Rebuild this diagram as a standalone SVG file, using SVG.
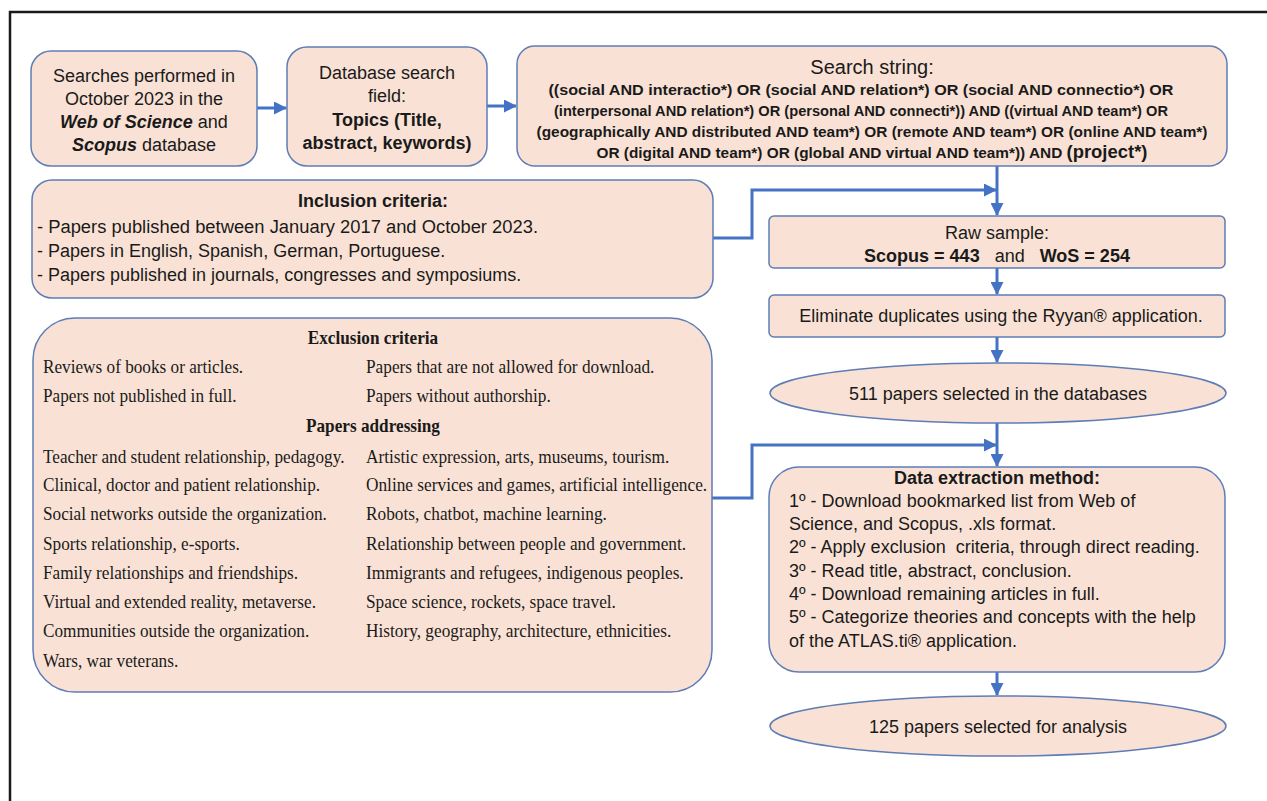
<svg xmlns="http://www.w3.org/2000/svg" width="1267" height="801" viewBox="0 0 1267 801">
<defs>
<style>
.box{fill:#F9E2D5;stroke:#5E7DB6;stroke-width:1.5}
.s{font-family:"Liberation Sans",Arial,sans-serif;fill:#1a1a1a}
.t{font-family:"Liberation Serif","Times New Roman",serif;fill:#1a1a1a;font-size:18.5px}
.c{text-anchor:middle}
.b{font-weight:bold}
.con{fill:none;stroke:#4472C4;stroke-width:3}
</style>
<marker id="ah" markerWidth="13" markerHeight="13" refX="12" refY="6.5" orient="auto" markerUnits="userSpaceOnUse">
<path d="M0,0 L13,6.5 L0,13 Z" fill="#4472C4"/>
</marker>
</defs>
<rect x="0" y="0" width="1267" height="801" fill="#ffffff"/>
<rect x="10" y="12" width="1290" height="820" fill="none" stroke="#1a1a1a" stroke-width="2.5"/>

<g id="connectors">
<line class="con" x1="257" y1="108" x2="286" y2="108" marker-end="url(#ah)"/>
<line class="con" x1="487" y1="106" x2="516" y2="106" marker-end="url(#ah)"/>
<line class="con" x1="997" y1="166" x2="997" y2="215" marker-end="url(#ah)"/>
<polyline class="con" points="713,238 752,238 752,190 996,190" marker-end="url(#ah)"/>
<line class="con" x1="997" y1="268" x2="997" y2="294" marker-end="url(#ah)"/>
<line class="con" x1="997" y1="337" x2="997" y2="362" marker-end="url(#ah)"/>
<line class="con" x1="997" y1="423" x2="997" y2="466" marker-end="url(#ah)"/>
<polyline class="con" points="712,498 752,498 752,445 996,445" marker-end="url(#ah)"/>
<line class="con" x1="997" y1="672" x2="997" y2="695" marker-end="url(#ah)"/>
</g>

<g id="searches">
<rect class="box" x="31" y="51" width="226" height="115" rx="20"/>
<text class="s c" font-size="18" x="144" y="82">Searches performed in</text>
<text class="s c" font-size="18" x="144" y="105">October 2023 in the</text>
<text class="s c" font-size="18" x="144" y="128"><tspan font-weight="bold" font-style="italic">Web of Science</tspan> and</text>
<text class="s c" font-size="18" x="144" y="151"><tspan font-weight="bold" font-style="italic">Scopus</tspan> database</text>
</g>

<g id="field">
<rect class="box" x="287" y="47" width="200" height="119" rx="20"/>
<text class="s c" font-size="18" x="387" y="79">Database search</text>
<text class="s c" font-size="18" x="387" y="102">field:</text>
<text class="s c b" font-size="18" x="387" y="126">Topics (Title,</text>
<text class="s c b" font-size="18" x="387" y="149">abstract, keywords)</text>
</g>

<g id="searchstring">
<rect class="box" x="517" y="46" width="710" height="120" rx="18"/>
<text class="s c" font-size="20" x="872" y="74">Search string:</text>
<text class="s c b" font-size="15" x="861" y="95" textLength="625" lengthAdjust="spacingAndGlyphs">((social AND interactio*) OR (social AND relation*) OR (social AND connectio*) OR</text>
<text class="s c b" font-size="15" x="861" y="116" textLength="614" lengthAdjust="spacingAndGlyphs">(interpersonal AND relation*) OR (personal AND connecti*)) AND ((virtual AND team*) OR</text>
<text class="s c b" font-size="15" x="872" y="137" textLength="671" lengthAdjust="spacingAndGlyphs">(geographically AND distributed AND team*) OR (remote AND team*) OR (online AND team*)</text>
<text class="s c b" font-size="15" x="872" y="158" textLength="551" lengthAdjust="spacingAndGlyphs">OR (digital AND team*) OR (global AND virtual AND team*)) AND <tspan font-size="18">(project*)</tspan></text>
</g>

<g id="inclusion">
<rect class="box" x="32" y="180" width="681" height="118" rx="20"/>
<text class="s c b" font-size="18" x="373" y="207">Inclusion criteria:</text>
<text class="s" font-size="18" x="37" y="233" textLength="501" lengthAdjust="spacingAndGlyphs">- Papers published between January 2017 and October 2023.</text>
<text class="s" font-size="18" x="37" y="257">- Papers in English, Spanish, German, Portuguese.</text>
<text class="s" font-size="18" x="37" y="281">- Papers published in journals, congresses and symposiums.</text>
</g>

<g id="raw">
<rect class="box" x="769" y="216" width="456" height="52" rx="5"/>
<text class="s c" font-size="18" x="997" y="239">Raw sample:</text>
<text class="s c" font-size="18" x="997" y="262" xml:space="preserve"><tspan font-weight="bold">Scopus = 443</tspan>   and   <tspan font-weight="bold">WoS = 254</tspan></text>
</g>

<g id="eliminate">
<rect class="box" x="769" y="295" width="456" height="42" rx="5"/>
<text class="s c" font-size="18" x="1001" y="322">Eliminate duplicates using the Ryyan® application.</text>
</g>

<g id="selected511">
<ellipse class="box" cx="998" cy="393" rx="228" ry="30"/>
<text class="s c" font-size="18" x="998" y="400">511 papers selected in the databases</text>
</g>

<g id="exclusion">
<rect class="box" x="33" y="318" width="679" height="374" rx="42"/>
<text class="t c b" x="373" y="344" transform="translate(373,0) scale(0.93,1) translate(-373,0)">Exclusion criteria</text>
<text class="t c b" x="373" y="432" transform="translate(373,0) scale(0.93,1) translate(-373,0)">Papers addressing</text>
<g transform="translate(43,0) scale(0.93,1) translate(-43,0)">
<text class="t" x="43" y="373">Reviews of books or articles.</text>
<text class="t" x="43" y="402">Papers not published in full.</text>
<text class="t" x="43" y="463">Teacher and student relationship, pedagogy.</text>
<text class="t" x="43" y="491">Clinical, doctor and patient relationship.</text>
<text class="t" x="43" y="520">Social networks outside the organization.</text>
<text class="t" x="43" y="550">Sports relationship, e-sports.</text>
<text class="t" x="43" y="579">Family relationships and friendships.</text>
<text class="t" x="43" y="608">Virtual and extended reality, metaverse.</text>
<text class="t" x="43" y="637">Communities outside the organization.</text>
<text class="t" x="43" y="667">Wars, war veterans.</text>
</g>
<g transform="translate(366,0) scale(0.935,1) translate(-366,0)">
<text class="t" x="366" y="373">Papers that are not allowed for download.</text>
<text class="t" x="366" y="402">Papers without authorship.</text>
<text class="t" x="366" y="463">Artistic expression, arts, museums, tourism.</text>
<text class="t" x="366" y="491">Online services and games, artificial intelligence.</text>
<text class="t" x="366" y="520">Robots, chatbot, machine learning.</text>
<text class="t" x="366" y="550">Relationship between people and government.</text>
<text class="t" x="366" y="579">Immigrants and refugees, indigenous peoples.</text>
<text class="t" x="366" y="608">Space science, rockets, space travel.</text>
<text class="t" x="366" y="637">History, geography, architecture, ethnicities.</text>
</g>
</g>

<g id="extraction">
<rect class="box" x="769" y="467" width="456" height="205" rx="30"/>
<text class="s c b" font-size="18" x="997" y="484">Data extraction method:</text>
<text class="s" font-size="18" x="789" y="507">1º - Download bookmarked list from Web of</text>
<text class="s" font-size="18" x="789" y="530">Science, and Scopus, .xls format.</text>
<text class="s" font-size="18" x="789" y="553" xml:space="preserve">2º - Apply exclusion  criteria, through direct reading.</text>
<text class="s" font-size="18" x="789" y="577">3º - Read title, abstract, conclusion.</text>
<text class="s" font-size="18" x="789" y="600">4º - Download remaining articles in full.</text>
<text class="s" font-size="18" x="789" y="623">5º - Categorize theories and concepts with the help</text>
<text class="s" font-size="18" x="789" y="647">of the ATLAS.ti® application.</text>
</g>

<g id="selected125">
<ellipse class="box" cx="998" cy="726" rx="228" ry="30"/>
<text class="s c" font-size="18" x="998" y="733">125 papers selected for analysis</text>
</g>
</svg>
